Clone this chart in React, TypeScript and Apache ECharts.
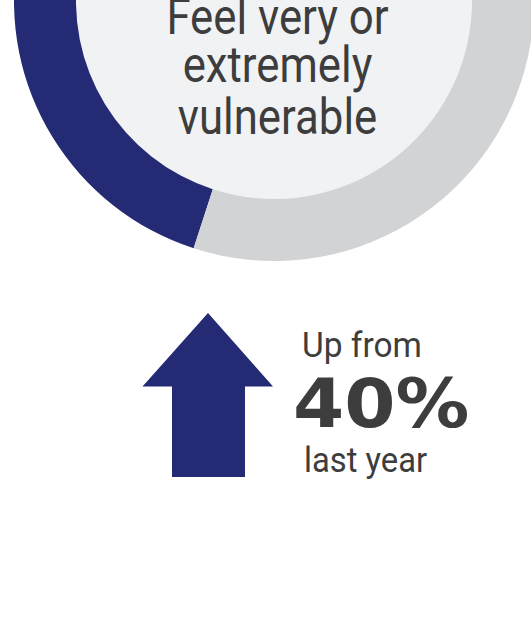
import { useEffect, useRef } from "react";
import * as echarts from "echarts";

const sliceNames = ["Feel very or extremely vulnerable", "Other"];
const sliceValues = [45, 55];
const sliceColors = ["#242a73", "#d2d3d5"];
const centerLines = ["Feel very or", "extremely", "vulnerable"];
const changeLines = ["Up from", "40%", "last year"];

const TEXT = "#3d3d3d";

export default function App() {
  const ref = useRef<HTMLDivElement>(null);
  useEffect(() => {
    const chart = echarts.init(ref.current!, null, { renderer: "svg", width: 531, height: 623 });
    const centerY = [16.5, 64.5, 116.5];
    const lineText = (txt: string, x: number, y: number, size: number, align: string, sx: number, family: string, weight: string | number) => ({
      type: "text",
      x,
      y,
      z: 100,
      scaleX: sx,
      silent: true,
      style: {
        text: txt,
        x: 0,
        y: 0,
        align,
        verticalAlign: "middle",
        fontSize: size,
        fontFamily: family,
        fontWeight: weight,
        fill: TEXT,
      },
    });
    chart.setOption({
      animation: false,
      backgroundColor: "#ffffff",
      series: [
        {
          type: "pie",
          center: [274, 1],
          radius: [0, 199],
          silent: true,
          label: { show: false },
          labelLine: { show: false },
          data: [{ name: "", value: 1, itemStyle: { color: "#f1f2f4" } }],
        },
        {
          type: "pie",
          center: [274, 1],
          radius: [198, 260],
          clockwise: false,
          startAngle: 90,
          silent: true,
          label: { show: false },
          labelLine: { show: false },
          itemStyle: { borderWidth: 0 },
          data: sliceValues.map((v, i) => ({ name: sliceNames[i], value: v, itemStyle: { color: sliceColors[i] } })),
        },
      ],
      graphic: [
        ...centerLines.map((t, i) => lineText(t, 277.5, centerY[i], 50, "center", 0.875, "Roboto", 400)),
        lineText(changeLines[0], 302, 344.8, 36, "left", 0.93, "Roboto", 400),
        lineText(changeLines[1], 293, 404, 67, "left", 1.1, "DejaVu Sans", "bold"),
        lineText(changeLines[2], 304, 459.8, 36, "left", 0.91, "Roboto", 400),
        {
          type: "polygon",
          z: 100,
          silent: true,
          shape: {
            points: [
              [208, 313],
              [273, 386.5],
              [245, 386.5],
              [245, 477],
              [172, 477],
              [172, 386.5],
              [142.5, 386.5],
            ],
          },
          style: { fill: "#242a73" },
        },
      ],
    });
    return () => chart.dispose();
  }, []);
  return <div ref={ref} style={{ position: "fixed", left: 0, top: 0, width: 531, height: 623 }} />;
}
